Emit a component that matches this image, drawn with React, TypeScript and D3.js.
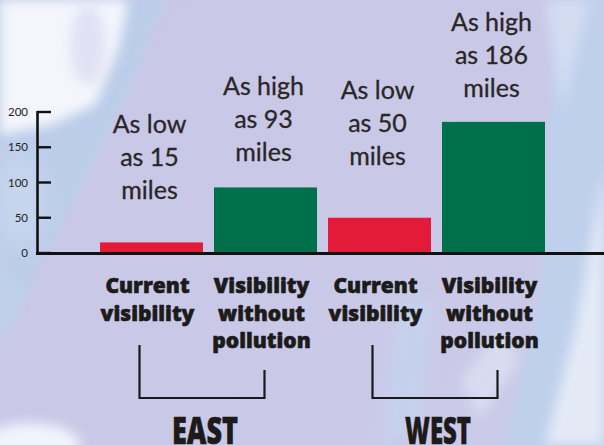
import React from "react";
import * as d3 from "d3";

// ---- data ----
const categories = ["East current", "East clean", "West current", "West clean"];
const values = [15, 93, 50, 186];
const barKinds = ["current", "clean", "current", "clean"];
const noteLines = [
  ["As low", "as 15", "miles"],
  ["As high", "as 93", "miles"],
  ["As low", "as 50", "miles"],
  ["As high", "as 186", "miles"],
];
const catLabels = [
  ["Current", "visibility"],
  ["Visibility", "without", "pollution"],
  ["Current", "visibility"],
  ["Visibility", "without", "pollution"],
];
const regions = ["EAST", "WEST"];
const yTicks = [0, 50, 100, 150, 200];

// ---- layout (pixels) ----
const W = 604;
const H = 445;
const noteTop = [133, 95, 99, 31];
const colors: Record<string, string> = { current: "#e31a38", clean: "#00704a" };

export default function App() {
  const y = d3.scaleLinear().domain([0, 200]).range([253, 112]);
  const x = d3.scaleBand<string>().domain(categories).range([100, 545]).paddingInner(0.0965).paddingOuter(0);
  const bw = x.bandwidth();
  const cx = (i: number) => (x(categories[i]) as number) + bw / 2;
  const base = y(0);

  return (
    <svg width={W} height={H} style={{ position: "fixed", left: 0, top: 0 }} viewBox={`0 0 ${W} ${H}`}>
      <defs>
        <filter id="blur10" x="-50%" y="-50%" width="200%" height="200%">
          <feGaussianBlur stdDeviation="10" />
        </filter>
        <filter id="blur6" x="-50%" y="-50%" width="200%" height="200%">
          <feGaussianBlur stdDeviation="6" />
        </filter>
        <filter id="blur3" x="-50%" y="-50%" width="200%" height="200%">
          <feGaussianBlur stdDeviation="3" />
        </filter>
        <linearGradient id="bg" x1="0" y1="0" x2="1" y2="1">
          <stop offset="0" stopColor="#c8c7e6" />
          <stop offset="1" stopColor="#cacbe8" />
        </linearGradient>
      </defs>
      {/* background */}
      <rect width={W} height={H} fill="url(#bg)" />
      {/* left blue band */}
      <path d="M0,0 L165,0 L120,110 L60,230 L0,340 Z" fill="#bccdea" filter="url(#blur3)" />
      {/* left top white cloud */}
      <path d="M0,0 L128,0 L118,50 L95,105 L50,125 L0,135 Z" fill="#f4f6fc" filter="url(#blur6)" />
      <ellipse cx={88} cy={45} rx={18} ry={40} fill="#d4d4ee" opacity={0.6} filter="url(#blur6)" />
      <ellipse cx={20} cy={200} rx={25} ry={50} fill="#d0dcf0" opacity={0.5} filter="url(#blur10)" />
      {/* bottom-left cloud */}
      <ellipse cx={30} cy={445} rx={50} ry={22} fill="#f0f4fb" filter="url(#blur6)" />
      <path d="M0,345 L28,290 L0,262 Z" fill="#bfd0eb" filter="url(#blur3)" />
      {/* right blue band */}
      <path d="M556,0 L604,0 L604,445 L505,445 L540,300 Z" fill="#bfd0ec" filter="url(#blur3)" />
      <path d="M604,170 L604,445 L545,445 L575,330 Z" fill="#e8edf8" opacity={0.9} filter="url(#blur6)" />
      <path d="M545,0 L590,0 L562,110 Z" fill="#d8e0f3" opacity={0.8} filter="url(#blur6)" />
      {/* middle streaks */}
      <path d="M398,300 L432,300 L420,420 L392,445 L382,445 Z" fill="#c5d3ee" opacity={0.8} filter="url(#blur6)" />
      <path d="M460,380 L500,330 L520,360 L480,420 Z" fill="#e1e7f6" opacity={0.6} filter="url(#blur6)" />

      {/* bars */}
      {values.map((v, i) => (
        <rect key={i} x={x(categories[i])} y={y(v)} width={bw} height={base - y(v)} fill={colors[barKinds[i]]} />
      ))}

      {/* y axis */}
      <line x1={37.5} x2={37.5} y1={y(200) - 1} y2={base + 1} stroke="#111" strokeWidth={2.6} />
      {yTicks.map((t) => (
        <g key={t}>
          <line x1={37} x2={51} y1={y(t)} y2={y(t)} stroke="#111" strokeWidth={2.4} />
          <text x={28} y={y(t)} dy="0.35em" textAnchor="end" fontFamily="Lato, 'Open Sans', sans-serif" fontSize={11.5} fill="#222">
            {t}
          </text>
        </g>
      ))}
      {/* baseline */}
      <line x1={36} x2={W} y1={base + 0.5} y2={base + 0.5} stroke="#111" strokeWidth={3} />

      {/* notes above bars */}
      {noteLines.map((lines, i) => (
        <text key={i} textAnchor="middle" fontFamily="Lato, sans-serif" fontSize={25} fill="#2a2626" stroke="#2a2626" strokeWidth={0.3}>
          {lines.map((l, j) => (
            <tspan key={j} x={cx(i) - 2} y={noteTop[i] + j * 33}>
              {l}
            </tspan>
          ))}
        </text>
      ))}

      {/* category labels */}
      {catLabels.map((lines, i) => (
        <text key={i} textAnchor="middle" fontFamily="'Open Sans', sans-serif" fontWeight={800} fontSize={21} fill="#1d1a1a" stroke="#1d1a1a" strokeWidth={0.6}>
          {lines.map((l, j) => (
            <tspan key={j} x={cx(i) - 4} y={293 + j * 27.5}>
              {l}
            </tspan>
          ))}
        </text>
      ))}

      {/* brackets */}
      {regions.map((r, k) => {
        const l = cx(k * 2) - (k === 0 ? 12 : 7);
        const rr = cx(k * 2 + 1) + (k === 0 ? -1 : 4);
        return (
          <g key={r}>
            <path d={`M${l},345 V398 H${rr} V370`} fill="none" stroke="#1a1a1a" strokeWidth={2.2} />
            <text
              x={(l + rr) / 2 + 3}
              y={444}
              textAnchor="middle"
              fontFamily="'Open Sans', sans-serif"
              fontWeight={800}
              fontSize={37}
              textLength={66}
              lengthAdjust="spacingAndGlyphs"
              fill="#1d1a1a"
              stroke="#1d1a1a"
              strokeWidth={0.6}
            >
              {r}
            </text>
          </g>
        );
      })}
    </svg>
  );
}
